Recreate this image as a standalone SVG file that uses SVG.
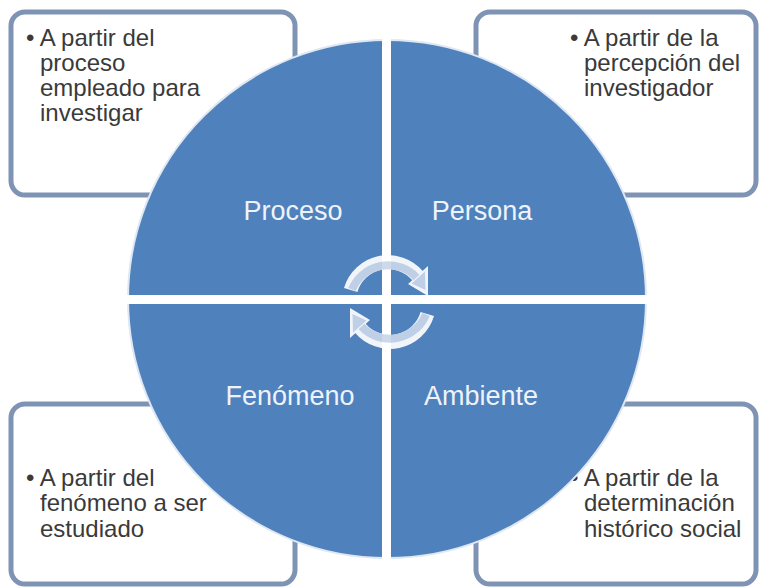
<svg xmlns="http://www.w3.org/2000/svg" width="760" height="588" viewBox="0 0 760 588">
<defs>
<style>
.box{fill:#ffffff;stroke:#7f94b4;stroke-width:5}
.bt{font-family:"Liberation Sans",Arial,sans-serif;font-size:24px;fill:#3a3a3a}
.ql{font-family:"Liberation Sans",Arial,sans-serif;font-size:27px;fill:#eef3fa;text-anchor:middle}
.arc{fill:none;stroke:#ffffff;stroke-width:14;stroke-linecap:butt}
.arcin{fill:none;stroke:#c8d6ea;stroke-width:8}
</style>
<g id="arrowTop">
<path class="arc" d="M350.7,290 A39,39 0 0 1 417.9,276"/>
<polygon points="408,284 428,266 428,296" fill="#ffffff"/>
<path class="arcin" d="M352,289.6 A39,39 0 0 1 416.5,277.5"/>
<polygon points="411.5,283.5 425,271.5 425.5,290" fill="#c8d6ea"/>
</g>
</defs>
<g id="box-tl"><rect class="box" x="11" y="12" width="284" height="183" rx="14"/>
<text class="bt"><tspan x="26" y="46">• A partir del</tspan><tspan x="40" y="71">proceso</tspan><tspan x="40" y="96">empleado para</tspan><tspan x="40" y="121">investigar</tspan></text></g>
<g id="box-tr"><rect class="box" x="476" y="12" width="280" height="183" rx="14"/>
<text class="bt"><tspan x="570" y="46">• A partir de la</tspan><tspan x="584" y="71">percepción del</tspan><tspan x="584" y="96">investigador</tspan></text></g>
<g id="box-bl"><rect class="box" x="11" y="404" width="284" height="180" rx="14"/>
<text class="bt"><tspan x="26" y="486">• A partir del</tspan><tspan x="40" y="511">fenómeno a ser</tspan><tspan x="40" y="537">estudiado</tspan></text></g>
<g id="box-br"><rect class="box" x="476" y="404" width="280" height="180" rx="14"/>
<text class="bt"><tspan x="570" y="486">• A partir de la</tspan><tspan x="584" y="511">determinación</tspan><tspan x="584" y="537">histórico social</tspan></text></g>
<g id="circle">
<circle cx="387" cy="299" r="259" fill="#4f81bd" stroke="#dfe7f2" stroke-width="2"/>
<rect x="382" y="38" width="9" height="524" fill="#ffffff"/>
<rect x="126" y="295" width="524" height="9" fill="#ffffff"/>
</g>
<g id="q-proceso"><text class="ql" x="293" y="220">Proceso</text></g>
<g id="q-persona"><text class="ql" x="482" y="220">Persona</text></g>
<g id="q-fenomeno"><text class="ql" x="290" y="405">Fenómeno</text></g>
<g id="q-ambiente"><text class="ql" x="481" y="405">Ambiente</text></g>
<g id="connectors" opacity="0.92">
<use href="#arrowTop"/>
<use href="#arrowTop" transform="rotate(180 389 302)"/>
</g>
</svg>
